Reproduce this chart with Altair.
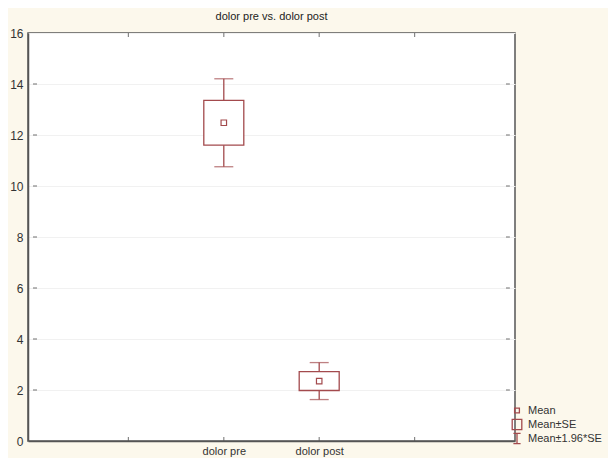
import altair as alt
import pandas as pd

# ---- data ----
categories = ["dolor pre", "dolor post"]
means = [12.48, 2.35]
se = [0.88, 0.37]
x_ticks = [0, 1, 2, 3, 4, 5]
y_ticks = [0, 2, 4, 6, 8, 10, 12, 14, 16]
legend_items = ["Mean", "Mean\u00b1SE", "Mean\u00b11.96*SE"]

RED = "#a34a4d"
GRID = "#f1f1f1"
AXC = "#555555"
BG = "#fcf8ec"
FONT = "Liberation Sans"

rows = []
for i, (c, m, s) in enumerate(zip(categories, means, se)):
    rows.append(dict(cat=c, pos=i + 2, mean=m,
                     se_lo=m - s, se_hi=m + s,
                     ci_lo=m - 1.96 * s, ci_hi=m + 1.96 * s))
df = pd.DataFrame(rows)

label_expr = " : ".join(
    [f"datum.value == {i + 2} ? '{c}'" for i, c in enumerate(categories)]) + " : ''"

xscale = alt.Scale(domain=[0, 5], nice=False, zero=False)
yscale = alt.Scale(domain=[0, 16], nice=False)

xenc = alt.X("pos:Q", scale=xscale, title=None,
             axis=alt.Axis(values=x_ticks, labelExpr=label_expr, grid=False,
                           ticks=False, domainColor=AXC,
                           domainWidth=1.5, labelFontSize=11, labelColor="#333",
                           labelFont=FONT, labelPadding=4, labelFlush=False))
yaxis = alt.Axis(values=y_ticks, grid=True, gridColor=GRID, ticks=False,
                 domainColor=AXC, domainWidth=1.5,
                 labelFontSize=12, labelColor="#333", labelFont=FONT,
                 labelPadding=5, labelFlush=False)

base = alt.Chart(df)

whisk = base.mark_rule(color=RED, strokeWidth=1.3).encode(
    x=xenc,
    y=alt.Y("ci_lo:Q", scale=yscale, axis=yaxis, title=None),
    y2="ci_hi:Q")

cap_lo = base.mark_tick(color=RED, orient="horizontal", size=19,
                        thickness=1.3).encode(x="pos:Q", y="ci_lo:Q")
cap_hi = base.mark_tick(color=RED, orient="horizontal", size=19,
                        thickness=1.3).encode(x="pos:Q", y="ci_hi:Q")

box = base.mark_bar(width=40, fill="white", stroke=RED,
                    strokeWidth=1.3).encode(
    x="pos:Q", y="se_lo:Q", y2="se_hi:Q")

mean_pt = base.mark_point(shape="square", size=30, filled=False, color=RED,
                          strokeWidth=1.2, opacity=1).encode(
    x="pos:Q", y="mean:Q")

# inward tick marks on all four sides of the frame
ydf = pd.DataFrame({"v": y_ticks[1:-1]})
xdf = pd.DataFrame({"v": x_ticks[1:-1]})
tk = dict(color=AXC, size=4, thickness=1.2)
left_t = alt.Chart(ydf).mark_tick(orient="horizontal", xOffset=2, **tk).encode(
    x=alt.datum(0, type="quantitative"), y="v:Q")
right_t = alt.Chart(ydf).mark_tick(orient="horizontal", xOffset=-2, **tk).encode(
    x=alt.datum(5, type="quantitative"), y="v:Q")
bot_t = alt.Chart(xdf).mark_tick(orient="vertical", yOffset=-2, **tk).encode(
    x="v:Q", y=alt.datum(0, type="quantitative"))
top_t = alt.Chart(xdf).mark_tick(orient="vertical", yOffset=2, **tk).encode(
    x="v:Q", y=alt.datum(16, type="quantitative"))

leg_df = pd.DataFrame({"item": legend_items,
                       "pos": [-5] * 3, "mean": [-5] * 3})
shapes = ["M-0.4,-0.4H0.4V0.4H-0.4Z",
          "M-0.8,-0.85H0.8V0.85H-0.8Z",
          "M-0.6,-0.85H0.6M0,-0.85V0.85M-0.6,0.85H0.6"]
legend_layer = alt.Chart(leg_df).mark_point(
    filled=False, color=RED, size=144, opacity=0, clip=True).encode(
    x="pos:Q", y="mean:Q",
    shape=alt.Shape("item:N",
                    scale=alt.Scale(domain=legend_items, range=shapes),
                    legend=alt.Legend(title=None, orient="none",
                                      legendX=482, legendY=371,
                                      symbolSize=144, symbolStrokeColor=RED,
                                      symbolStrokeWidth=1.3,
                                      symbolFillColor="transparent",
                                      symbolOpacity=1, labelFontSize=11,
                                      labelFont=FONT, labelColor="#333",
                                      rowPadding=1, clipHeight=13,
                                      labelOffset=4, padding=0)))

chart = alt.layer(whisk, cap_lo, cap_hi, box, mean_pt,
                  left_t, right_t, bot_t, top_t, legend_layer).properties(
    width=487, height=408,
    title=alt.TitleParams("dolor pre vs. dolor post", fontSize=11,
                          font=FONT, fontWeight="normal", color="#222",
                          offset=5, anchor="middle"),
    autosize=alt.AutoSizeParams(type="none"),
    padding={"left": 20, "top": 25, "right": 93, "bottom": 17},
    background=BG,
).configure_view(stroke=AXC, strokeWidth=1.5, fill="white")

chart.save("out.html", embed_options={"renderer": "svg", "actions": False})
